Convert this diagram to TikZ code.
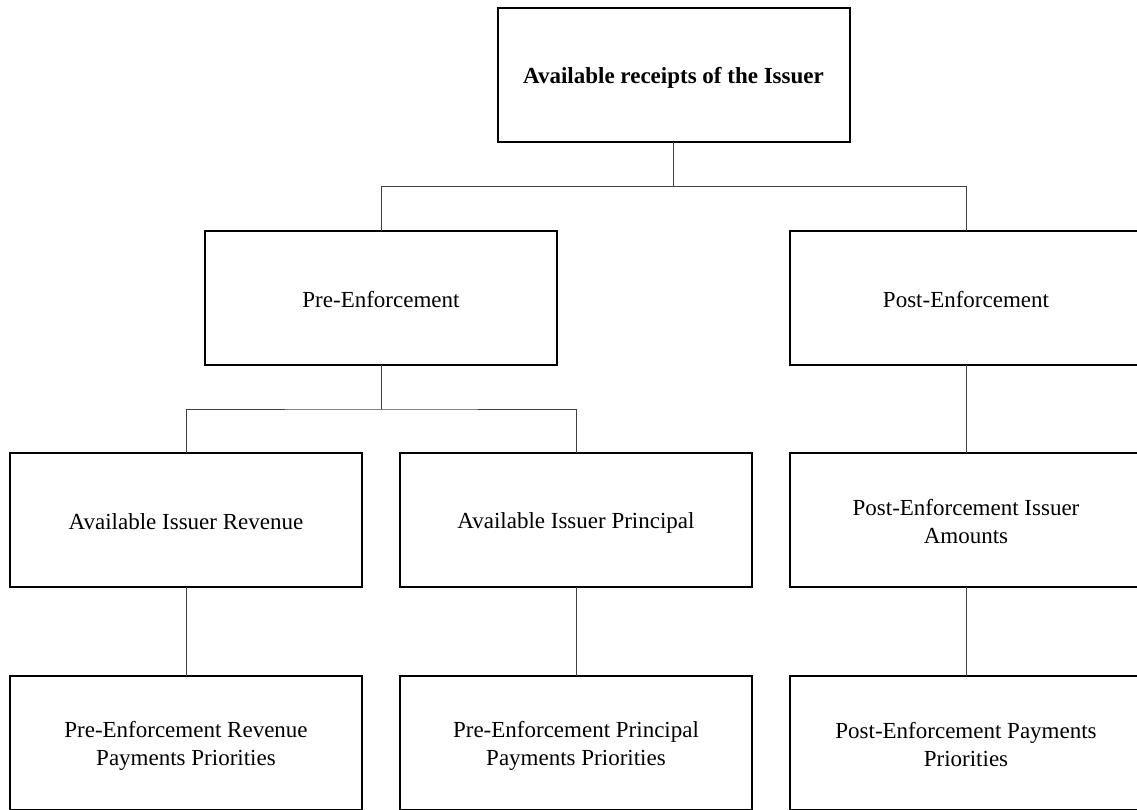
\documentclass[tikz,border=0pt]{standalone}
\usepackage{fontspec}
\setmainfont{Liberation Serif}
\usetikzlibrary{calc}
% line strut that keeps every text line on the same baseline
\newcommand{\ls}{\rule[-3pt]{0pt}{24pt}}
\begin{document}
\begin{tikzpicture}[x=1pt,y=-1pt,
  box/.style={draw=black,line width=2pt,fill=white,minimum width=352pt,minimum height=134pt,
    inner sep=0pt,outer sep=0pt,align=center,font=\fontsize{23}{28}\selectfont},
  link/.style={draw=black!75,line width=1pt}]
\useasboundingbox (0,0) rectangle (1137,810);

% tree nodes
\node[box,font=\fontsize{23}{28}\selectfont\bfseries] (top) at (673.5,75.5) {\ls Available receipts of the Issuer};
\node[box] (pre)  at (381,298) {\ls Pre-Enforcement};
\node[box] (post) at (966,298) {\ls Post-Enforcement};
\node[box] (rev)  at (186,520) {\ls Available Issuer Revenue};
\node[box] (prin) at (576,520) {\ls Available Issuer Principal};
\node[box] (amt)  at (966,520) {\ls Post-Enforcement Issuer\\\ls Amounts};
\node[box] (revp) at (186,743) {\ls Pre-Enforcement Revenue\\\ls Payments Priorities};
\node[box] (prinp) at (576,743) {\ls Pre-Enforcement Principal\\\ls Payments Priorities};
\node[box] (postp) at (966,743) {\ls Post-Enforcement Payments\\\ls Priorities};

% branching connectors
\coordinate (j1) at ($(top.south)!.5!(top.south |- pre.north)$);
\draw[link] (top.south) -- (j1);
\draw[link] (pre.north) |- (j1) -| (post.north);
\coordinate (j2) at ($(pre.south)!.5!(pre.south |- rev.north)$);
\draw[link] (pre.south) -- (j2);
\draw[link] (rev.north) |- (j2) -| (prin.north);

% straight connectors
\draw[link] (post.south) -- (amt.north);
\draw[link] (rev.south) -- (revp.north);
\draw[link] (prin.south) -- (prinp.north);
\draw[link] (amt.south) -- (postp.north);
\end{tikzpicture}
\end{document}
